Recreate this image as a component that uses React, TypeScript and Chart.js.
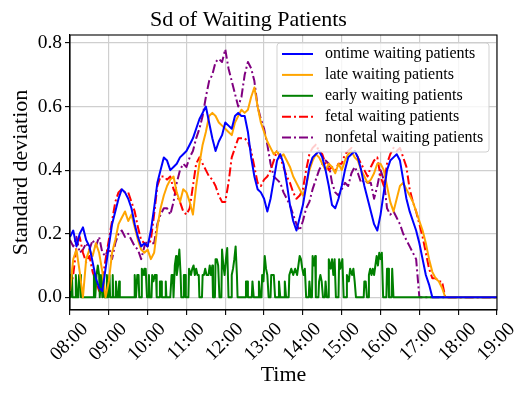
import React, { useEffect, useRef } from 'react';
import { Chart, registerables } from 'chart.js';

Chart.register(...registerables);

const FONT = '"Liberation Serif", "Times New Roman", serif';

// x axis: minutes since 08:00
const xTickMinutes = [0, 60, 120, 180, 240, 300, 360, 420, 480, 540, 600, 660];
const xTickLabels = ['08:00', '09:00', '10:00', '11:00', '12:00', '13:00', '14:00', '15:00', '16:00', '17:00', '18:00', '19:00'];
const yTicks = [0.0, 0.2, 0.4, 0.6, 0.8];

// sample times (every 5 minutes, 08:00 .. 19:00)
const minutes = Array.from({ length: 133 }, (_, i) => i * 5);

const ontime = [
  0.19, 0.21, 0.16, 0.20, 0.22, 0.18, 0.16, 0.11, 0.06, 0.03, 0.02, 0.09,
  0.16, 0.23, 0.27, 0.31, 0.34, 0.33, 0.31, 0.28, 0.23, 0.19, 0.16, 0.17,
  0.16, 0.21, 0.28, 0.36, 0.40, 0.44, 0.43, 0.40, 0.41, 0.42, 0.44, 0.45,
  0.46, 0.48, 0.50, 0.53, 0.56, 0.58, 0.60, 0.55, 0.50, 0.46, 0.49, 0.51,
  0.55, 0.54, 0.53, 0.57, 0.58, 0.57, 0.57, 0.52, 0.44, 0.38, 0.34, 0.33,
  0.31, 0.27, 0.31, 0.37, 0.43, 0.45, 0.42, 0.36, 0.29, 0.24, 0.21, 0.25,
  0.29, 0.35, 0.41, 0.44, 0.45, 0.46, 0.44, 0.40, 0.35, 0.29, 0.28, 0.31,
  0.35, 0.40, 0.44, 0.45, 0.46, 0.44, 0.40, 0.35, 0.31, 0.27, 0.23, 0.21,
  0.26, 0.33, 0.40, 0.43, 0.44, 0.45, 0.43, 0.37, 0.31, 0.27, 0.24, 0.21,
  0.17, 0.12, 0.07, 0.04, 0.00,
  0, 0, 0, 0, 0, 0, 0, 0, 0, 0, 0, 0, 0, 0, 0, 0, 0, 0, 0, 0,
];

const late = [
  0.02, 0.12, 0.15, 0.08, 0.00, 0.12, 0.15, 0.13, 0.17, 0.14, 0.08, 0.00,
  0.05, 0.14, 0.18, 0.23, 0.25, 0.27, 0.24, 0.26, 0.22, 0.18, 0.15, 0.14,
  0.15, 0.12, 0.14, 0.22, 0.28, 0.32, 0.35, 0.37, 0.38, 0.33, 0.30, 0.34,
  0.33, 0.30, 0.26, 0.35, 0.42, 0.48, 0.52, 0.57, 0.58, 0.57, 0.55, 0.54,
  0.53, 0.52, 0.51, 0.55, 0.57, 0.59, 0.58, 0.59, 0.63, 0.66, 0.60, 0.55,
  0.52, 0.49, 0.47, 0.45, 0.46, 0.44, 0.45, 0.43, 0.41, 0.38, 0.36, 0.34,
  0.32, 0.35, 0.40, 0.43, 0.45, 0.44, 0.42, 0.40, 0.42, 0.41, 0.39, 0.42,
  0.40, 0.43, 0.45, 0.46, 0.44, 0.43, 0.40, 0.38, 0.36, 0.37, 0.39, 0.42,
  0.42, 0.40, 0.35, 0.30, 0.27, 0.31, 0.35, 0.36, 0.34, 0.32, 0.30, 0.27,
  0.24, 0.21, 0.17, 0.12, 0.08, 0.06, 0.05, 0.03,
  0, 0, 0, 0, 0, 0, 0, 0, 0, 0, 0, 0, 0, 0, 0, 0, 0,
];

const greenTimes = [
  0, 1, 3, 4, 8, 9, 11, 13, 14, 16, 17, 36, 37, 39, 41, 43, 45, 46, 48, 50, 52, 53, 56, 57, 59, 61, 62, 65, 66, 67,
  70, 71, 73, 75, 76, 77, 99, 100, 102, 104, 106, 107, 110, 111, 113, 115, 116, 117, 119, 121, 122, 123, 126, 127,
  129, 131, 133, 134, 138, 139, 141, 142, 147, 148, 149, 155, 157, 159, 160, 162, 164, 165, 167, 169, 171, 172, 175,
  176, 178, 179, 183, 184, 187, 189, 191, 193, 195, 197, 199, 200, 204, 205, 207, 209, 211, 214, 216, 218, 220, 221,
  224, 225, 227, 229, 231, 234, 235, 237, 239, 241, 243, 245, 249, 250, 252, 254, 256, 258, 259, 271, 272, 274, 275,
  281, 282, 284, 291, 292, 294, 296, 297, 299, 301, 303, 305, 307, 310, 311, 313, 315, 317, 322, 323, 325, 331, 332,
  334, 338, 339, 342, 345, 348, 351, 353, 355, 357, 359, 361, 363, 365, 369, 370, 372, 374, 375, 377, 379, 380, 384,
  385, 387, 389, 391, 394, 395, 397, 399, 400, 403, 405, 407, 409, 411, 415, 416, 418, 421, 423, 427, 428, 431, 433,
  436, 438, 440, 442, 454, 455, 457, 459, 461, 462, 464, 466, 468, 470, 472, 474, 476, 478, 480, 482, 484, 489, 490,
  492, 493, 497, 498, 500, 660,
];
const greenValues = [
  0, 0.07, 0.07, 0, 0, 0.07, 0, 0, 0.07, 0.07, 0, 0, 0.07, 0, 0.07, 0.1, 0.07, 0, 0.07, 0, 0.07, 0, 0, 0.07, 0, 0.07, 0, 0, 0.07, 0,
  0, 0.05, 0, 0, 0.05, 0, 0, 0.07, 0, 0.07, 0.07, 0, 0, 0.09, 0.07, 0.09, 0.07, 0.09, 0, 0, 0.07, 0, 0, 0.07,
  0.05, 0.07, 0.07, 0, 0, 0.05, 0.05, 0, 0, 0.05, 0, 0, 0.07, 0.07, 0, 0.1, 0.13, 0.07, 0.1, 0.15, 0.07, 0, 0,
  0.07, 0.07, 0, 0, 0.09, 0.07, 0.09, 0.1, 0.07, 0.09, 0.07, 0.07, 0, 0, 0.07, 0.07, 0.09, 0.07, 0.07, 0.1, 0.07, 0.1, 0,
  0, 0.12, 0.12, 0.1, 0, 0, 0.15, 0.1, 0.07, 0.12, 0.155, 0, 0, 0.07, 0.09, 0.12, 0.16, 0.07, 0, 0, 0.05, 0.05, 0,
  0, 0.05, 0, 0, 0.05, 0, 0, 0.07, 0.05, 0.13, 0.09, 0.07, 0, 0, 0.07, 0.07, 0.07, 0, 0, 0.05, 0, 0, 0.05,
  0, 0, 0.07, 0.09, 0.07, 0.09, 0.07, 0.1, 0.13, 0.12, 0.09, 0.07, 0.09, 0, 0, 0.05, 0, 0, 0.13, 0.1, 0.13, 0, 0,
  0.05, 0.07, 0.05, 0, 0, 0.05, 0, 0, 0.12, 0.09, 0.12, 0.07, 0.12, 0, 0, 0.12, 0.09, 0.12, 0, 0, 0.07, 0.05, 0.09,
  0.07, 0.09, 0.05, 0, 0, 0.05, 0.05, 0, 0, 0.07, 0.09, 0.07, 0.09, 0.07, 0.1, 0.13, 0.1, 0.14, 0.12, 0.14, 0, 0, 0.09,
  0.09, 0, 0, 0.09, 0, 0,
];

const fetal = [
  0.02, 0.07, 0.16, 0.19, 0.14, 0.11, 0.13, 0.08, 0.05, 0.02, 0.05, 0.12,
  0.18, 0.24, 0.30, 0.33, 0.34, 0.33, 0.33, 0.30, 0.27, 0.22, 0.18, 0.17,
  0.16, 0.18, 0.26, 0.35, 0.38, 0.38, 0.37, 0.38, 0.34, 0.32, 0.30, 0.27,
  0.26, 0.28, 0.35, 0.42, 0.44, 0.42, 0.40, 0.38, 0.37, 0.35, 0.32, 0.30,
  0.30, 0.36, 0.44, 0.47, 0.50, 0.50, 0.50, 0.49, 0.46, 0.41, 0.36, 0.35,
  0.37, 0.38, 0.40, 0.43, 0.46, 0.44, 0.41, 0.38, 0.36, 0.33, 0.31, 0.32,
  0.34, 0.40, 0.45, 0.47, 0.48, 0.46, 0.45, 0.42, 0.40, 0.41, 0.40, 0.42,
  0.42, 0.45, 0.46, 0.47, 0.46, 0.44, 0.42, 0.40, 0.38, 0.41, 0.43, 0.44,
  0.38, 0.35, 0.42, 0.45, 0.47, 0.46, 0.47, 0.44, 0.41, 0.34, 0.30, 0.27,
  0.23, 0.19, 0.14, 0.09, 0.06, 0.06, 0.05, 0.05,
  0, 0, 0, 0, 0, 0, 0, 0, 0, 0, 0, 0, 0, 0, 0, 0, 0,
];

const nonfetal = [
  0.18, 0.16, 0.19, 0.14, 0.15, 0.17, 0.15, 0.18, 0.16, 0.19, 0.14, 0.13,
  0.16, 0.12, 0.17, 0.20, 0.21, 0.19, 0.20, 0.18, 0.16, 0.15, 0.12, 0.16,
  0.18, 0.17, 0.17, 0.23, 0.26, 0.28, 0.28, 0.26, 0.30, 0.36, 0.40, 0.42,
  0.41, 0.44, 0.46, 0.50, 0.53, 0.57, 0.63, 0.68, 0.70, 0.74, 0.75, 0.74,
  0.78, 0.72, 0.68, 0.64, 0.60, 0.63, 0.70, 0.74, 0.72, 0.68, 0.60, 0.56,
  0.53, 0.48, 0.42, 0.38, 0.37, 0.36, 0.33, 0.31, 0.29, 0.26, 0.23, 0.21,
  0.24, 0.28, 0.30, 0.34, 0.37, 0.40, 0.42, 0.43, 0.42, 0.36, 0.33, 0.32,
  0.34, 0.36, 0.35, 0.39, 0.41, 0.39, 0.36, 0.37, 0.36, 0.36, 0.31, 0.35,
  0.40, 0.37, 0.28, 0.26, 0.27, 0.25, 0.23, 0.20, 0.18, 0.16, 0.14, 0.12,
  0, 0, 0, 0, 0, 0, 0, 0, 0, 0, 0, 0, 0, 0, 0, 0, 0, 0, 0, 0, 0, 0, 0, 0, 0,
];

const seriesNames = [
  'ontime waiting patients',
  'late waiting patients',
  'early waiting patients',
  'fetal waiting patients',
  'nonfetal waiting patients',
];
const seriesColors = ['#0000ff', '#ffa500', '#008000', '#ff0000', '#800080'];
const DASHDOT = [9, 3, 2, 3];

const toPoints = (xs: number[], ys: number[]) => xs.map((x, i) => ({ x, y: ys[i] }));

const framePlugin = {
  id: 'frameAndLegend',
  afterDatasetsDraw(chart: any) {
    const { ctx, chartArea } = chart;
    const { left, right, top, bottom } = chartArea;
    ctx.save();
    ctx.strokeStyle = '#000';
    ctx.lineWidth = 1.1;
    ctx.strokeRect(left, top, right - left, bottom - top);

    // legend (upper right)
    const bx = right - 220;
    const by = top + 8;
    const bw = 212;
    const bh = 109;
    const r = 3;
    ctx.beginPath();
    ctx.moveTo(bx + r, by);
    ctx.lineTo(bx + bw - r, by);
    ctx.quadraticCurveTo(bx + bw, by, bx + bw, by + r);
    ctx.lineTo(bx + bw, by + bh - r);
    ctx.quadraticCurveTo(bx + bw, by + bh, bx + bw - r, by + bh);
    ctx.lineTo(bx + r, by + bh);
    ctx.quadraticCurveTo(bx, by + bh, bx, by + bh - r);
    ctx.lineTo(bx, by + r);
    ctx.quadraticCurveTo(bx, by, bx + r, by);
    ctx.closePath();
    ctx.fillStyle = 'rgba(255,255,255,0.8)';
    ctx.fill();
    ctx.strokeStyle = 'rgba(204,204,204,0.9)';
    ctx.lineWidth = 1;
    ctx.stroke();

    ctx.font = `16px ${FONT}`;
    ctx.textBaseline = 'middle';
    ctx.textAlign = 'left';
    chart.data.datasets.forEach((ds: any, i: number) => {
      const y = by + 11 + i * 20.9;
      ctx.beginPath();
      ctx.setLineDash(ds.borderDash || []);
      ctx.strokeStyle = ds.borderColor;
      ctx.lineWidth = 2;
      ctx.moveTo(bx + 5, y);
      ctx.lineTo(bx + 36, y);
      ctx.stroke();
      ctx.setLineDash([]);
      ctx.fillStyle = '#000';
      ctx.fillText(ds.label, bx + 48, y);
    });
    ctx.restore();
  },
};

export default function App() {
  const ref = useRef<HTMLCanvasElement | null>(null);

  useEffect(() => {
    if (!ref.current) return;
    const ys = [ontime, late, null, fetal, nonfetal];
    const datasets = seriesNames.map((name, i) => ({
      label: name,
      data: i === 2 ? toPoints(greenTimes, greenValues) : toPoints(minutes, ys[i] as number[]),
      borderColor: seriesColors[i],
      backgroundColor: seriesColors[i],
      borderWidth: 2,
      borderDash: i >= 3 ? DASHDOT : [],
      pointRadius: 0,
      tension: 0,
      fill: false,
      borderJoinStyle: 'round' as const,
    }));

    const chart = new Chart(ref.current, {
      type: 'line',
      data: { datasets },
      plugins: [framePlugin],
      options: {
        responsive: false,
        animation: false,
        devicePixelRatio: 1,
        layout: { padding: { left: 0, right: 34, top: 0, bottom: 0 } },
        plugins: {
          legend: { display: false },
          tooltip: { enabled: false },
          title: {
            display: true,
            text: 'Sd of Waiting Patients',
            color: '#000',
            font: { family: FONT, size: 22, weight: 'normal' },
            padding: { top: 7, bottom: 1.6 },
          },
        },
        scales: {
          x: {
            type: 'linear',
            min: 0,
            max: 660,
            afterBuildTicks: (s: any) => {
              s.ticks = xTickMinutes.map((v) => ({ value: v }));
            },
            afterFit: (s: any) => {
              s.height = 89;
            },
            ticks: {
              autoSkip: false,
              minRotation: 45,
              maxRotation: 45,
              labelOffset: 15,
              padding: 3,
              color: '#000',
              font: { family: FONT, size: 19.5 },
              callback: (v: any) => xTickLabels[xTickMinutes.indexOf(Number(v))] ?? '',
            },
            grid: { color: '#cfcfcf', lineWidth: 1.2, tickLength: 5, tickColor: '#000', tickWidth: 1.1 },
            border: { display: true, color: '#000', width: 1.1 },
            title: {
              display: true,
              text: 'Time',
              color: '#000',
              font: { family: FONT, size: 22 },
              padding: { top: 0, bottom: 11 },
            },
          },
          y: {
            type: 'linear',
            min: -0.04,
            max: 0.825,
            afterBuildTicks: (s: any) => {
              s.ticks = yTicks.map((v) => ({ value: v }));
            },
            afterFit: (s: any) => {
              s.width = 70;
            },
            ticks: {
              padding: 3,
              color: '#000',
              font: { family: FONT, size: 19.5 },
              callback: (v: any) => Number(v).toFixed(1),
            },
            grid: { color: '#cfcfcf', lineWidth: 1.2, tickLength: 5, tickColor: '#000', tickWidth: 1.1 },
            border: { display: true, color: '#000', width: 1.1 },
            title: {
              display: true,
              text: 'Standard deviation',
              color: '#000',
              font: { family: FONT, size: 22 },
              padding: { top: 8, bottom: 0 },
            },
          },
        },
      },
    });
    return () => chart.destroy();
  }, []);

  return (
    <div style={{ position: 'fixed', left: 0, top: 0, width: 531, height: 399, background: '#fff' }}>
      <canvas ref={ref} width={531} height={399} style={{ display: 'block' }} />
    </div>
  );
}
